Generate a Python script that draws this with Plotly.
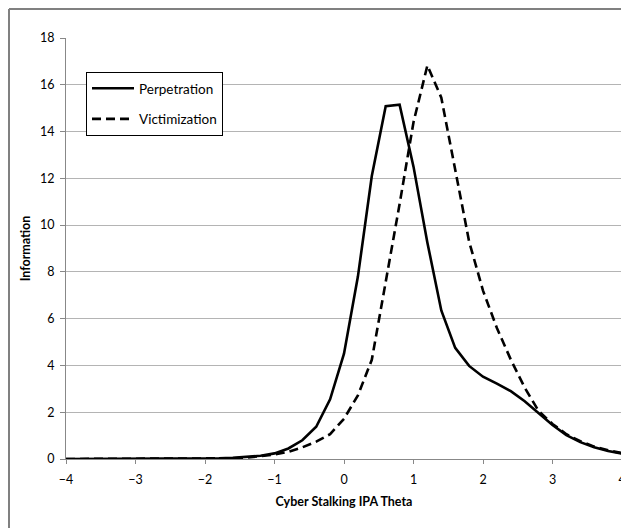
import plotly.graph_objects as go

theta = [round(-4 + 0.2 * i, 1) for i in range(41)]

perpetration = [0.00, 0.00, 0.00, 0.00, 0.00, 0.01, 0.01, 0.01, 0.01, 0.02,
                0.02, 0.03, 0.05, 0.08, 0.14, 0.24, 0.45, 0.80, 1.38, 2.55,
                4.50, 7.80, 12.10, 15.08, 15.15, 12.50, 9.25, 6.35, 4.75, 3.98,
                3.52, 3.22, 2.90, 2.47, 1.96, 1.45, 1.02, 0.72, 0.50, 0.34, 0.23]

victimization = [0.00, 0.00, 0.00, 0.00, 0.00, 0.00, 0.01, 0.01, 0.01, 0.01,
                 0.02, 0.02, 0.03, 0.06, 0.11, 0.19, 0.31, 0.50, 0.74, 1.06,
                 1.72, 2.72, 4.24, 7.50, 10.90, 14.40, 16.83, 15.45, 12.40, 9.30,
                 7.20, 5.60, 4.25, 3.05, 2.05, 1.50, 1.06, 0.76, 0.53, 0.37, 0.25]

series_names = ["Perpetration", "Victimization"]
x_title = "Cyber Stalking IPA Theta"
y_title = "Information"

# the page has an 8px body margin, so the figure is sized to fill the rest of the window
W, H = 621, 520
L, R, T, B = 58, 7, 30, 69
pw, ph = W - L - R, H - T - B

FONT = "Lato, 'Open Sans', sans-serif"

fig = go.Figure()
fig.add_trace(go.Scatter(x=theta, y=perpetration, mode="lines", name=series_names[0],
                         line=dict(color="black", width=2.6), legendgroup="a"))
fig.add_trace(go.Scatter(x=theta, y=victimization, mode="lines", name=series_names[1],
                         line=dict(color="black", width=2.6, dash="9px,5px"), legendgroup="b"))

fig.update_layout(
    width=W, height=H,
    margin=dict(l=L, r=R, t=T, b=B),
    paper_bgcolor="white", plot_bgcolor="white",
    font=dict(family=FONT, size=12.5, color="black"),
    showlegend=True,
    legend=dict(x=(78 - L) / pw, y=(H - B - 64) / ph, xanchor="left", yanchor="top",
                bgcolor="white", bordercolor="black", borderwidth=1,
                font=dict(size=13.5), tracegroupgap=10, itemwidth=42,
                entrywidth=132, entrywidthmode="pixels",
                traceorder="grouped"),
    xaxis=dict(range=[-4, 4], dtick=1, tick0=-4, showgrid=False, zeroline=False,
               showline=True, linecolor="#888888", linewidth=1, automargin=False,
               ticks="outside", ticklen=4, tickcolor="#888888", ticklabeloverflow="allow",
               ticklabelstandoff=5,
               title=dict(text="<b>" + x_title + "</b>", font=dict(size=12.5), standoff=11)),
    yaxis=dict(range=[0, 18], dtick=2, showgrid=True, gridcolor="#b4b4b4", gridwidth=1,
               zeroline=False, showline=True, linecolor="#888888", linewidth=1, automargin=False,
               ticks="outside", ticklen=5, tickcolor="#888888", ticklabelstandoff=3,
               title=dict(text="<b>" + y_title + "</b>", font=dict(size=12.5), standoff=6)),
)

# outer chart border: only its left and top edges are inside the window
border = dict(color="#808080", width=2)
fig.add_shape(type="line", xref="paper", yref="paper",
              x0=(1 - L) / pw, x1=(1 - L) / pw, y0=-B / ph, y1=1 + (T - 1) / ph, line=border)
fig.add_shape(type="line", xref="paper", yref="paper",
              x0=(1 - L) / pw, x1=1 + R / pw, y0=1 + (T - 1) / ph, y1=1 + (T - 1) / ph, line=border)

fig.write_html("out.html")
